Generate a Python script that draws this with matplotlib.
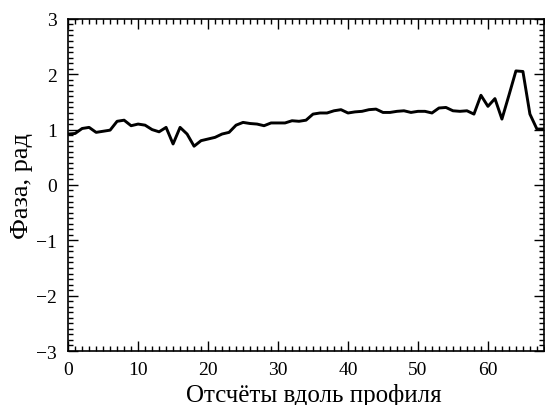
import numpy as np
import matplotlib.pyplot as plt
from matplotlib.ticker import MultipleLocator

plt.rcParams['font.family'] = ['Liberation Serif', 'DejaVu Serif']

# Фаза вдоль профиля (рад)
samples = np.arange(69)
phase = [0.92, 0.93, 1.02, 1.04, 0.95, 0.97, 0.99, 1.15, 1.17, 1.07,
         1.10, 1.08, 1.00, 0.96, 1.04, 0.74, 1.04, 0.92, 0.70, 0.80,
         0.83, 0.86, 0.92, 0.95, 1.08, 1.13, 1.11, 1.10, 1.07, 1.12,
         1.12, 1.12, 1.16, 1.15, 1.17, 1.28, 1.30, 1.30, 1.34, 1.36,
         1.30, 1.32, 1.33, 1.36, 1.37, 1.31, 1.31, 1.33, 1.34, 1.31,
         1.33, 1.33, 1.30, 1.39, 1.40, 1.34, 1.33, 1.34, 1.28, 1.62,
         1.42, 1.56, 1.19, 1.62, 2.06, 2.05, 1.28, 1.01, 1.01]

fig = plt.figure(figsize=(5.45, 4.06), dpi=100)
ax = fig.add_axes([0.125, 0.133, 0.873, 0.818])

ax.plot(samples, phase, color='black', lw=2.1)

ax.set_xlim(0, 68)
ax.set_ylim(-3, 3)
ax.xaxis.set_major_locator(MultipleLocator(10))
ax.xaxis.set_minor_locator(MultipleLocator(1))
ax.yaxis.set_major_locator(MultipleLocator(1))
ax.yaxis.set_minor_locator(MultipleLocator(0.1))
ax.tick_params(which='both', direction='in', top=True, right=True,
               labelsize=14, width=1)
ax.tick_params(which='major', length=7)
ax.tick_params(which='minor', length=3.5)
ax.tick_params(axis='x', which='major', pad=7)
ax.tick_params(axis='y', which='major', pad=8)
for s in ax.spines.values():
    s.set_linewidth(1.2)

ax.set_xlabel('Отсчёты вдоль профиля', fontsize=18, labelpad=4)
ax.xaxis.label.set_x(0.517)
ax.set_ylabel('Фаза, рад', fontsize=19, labelpad=2)

fig.savefig('out.png', dpi=100)
